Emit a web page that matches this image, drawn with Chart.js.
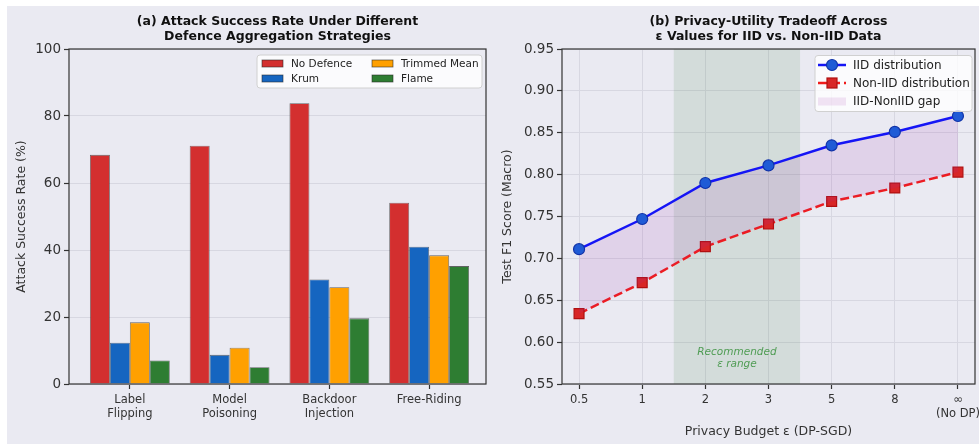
<!DOCTYPE html>
<html>
<head>
<meta charset="utf-8">
<script src="https://cdn.jsdelivr.net/npm/chart.js@4.4.1/dist/chart.umd.min.js"></script>
<style>
    html, body { margin: 0; padding: 0; background: #fff; }
    #bg { position: absolute; left: 7px; top: 6px; width: 972px; height: 438px; background: #eaeaf2; }
    .box { position: absolute; top: 0; height: 446px; }
    #boxA { left: 0; width: 490px; }
    #boxB { left: 490px; width: 489px; }
</style>
</head>
<body>
<div id="bg"></div>
<div class="box" id="boxA"><canvas id="chartA"></canvas></div>
<div class="box" id="boxB"><canvas id="chartB"></canvas></div>
<script>
// Data panel (a): attack success rate (%)
const attackTypes = [['Label', 'Flipping'], ['Model', 'Poisoning'], ['Backdoor', 'Injection'], ['Free-Riding']];
const defences = ['No Defence', 'Krum', 'Trimmed Mean', 'Flame'];
const noDefence = [68.4, 71.1, 83.8, 54.1];
const krum = [12.3, 8.7, 31.2, 41.0];
const trimmedMean = [18.4, 10.8, 28.9, 38.4];
const flame = [7.0, 5.0, 19.6, 35.2];
const defenceColors = ['#d32f2f', '#1565c0', '#ffa000', '#2e7d32'];

// Data panel (b): test F1 per privacy budget
const epsLabels = ['0.5', '1', '2', '3', '5', '8', ['∞', '(No DP)']];
const iidF1 = [0.711, 0.747, 0.790, 0.811, 0.835, 0.851, 0.870];
const nonIidF1 = [0.634, 0.671, 0.714, 0.741, 0.768, 0.784, 0.803];
const recommendedRange = [1.5, 3.5];

const FONT = 'DejaVu Sans';

// kotak hitam di sekeliling area plot
const framePlugin = {
    id: 'frame',
    afterDatasetsDraw(chart) {
        const { ctx, chartArea: a } = chart;
        ctx.save();
        ctx.strokeStyle = '#333';
        ctx.lineWidth = 1.2;
        ctx.strokeRect(a.left, a.top, a.right - a.left, a.bottom - a.top);
        ctx.restore();
    }
};

function legendFrame(ctx, x, y, w, h) {
    ctx.save();
    ctx.beginPath();
    ctx.roundRect(x, y, w, h, 3);
    ctx.fillStyle = 'rgba(255,255,255,0.8)';
    ctx.fill();
    ctx.strokeStyle = '#d0d0d0';
    ctx.lineWidth = 1;
    ctx.stroke();
    ctx.restore();
}

// legenda panel (a), dua kolom
const legendA = {
    id: 'legendA',
    afterDraw(chart) {
        const { ctx, chartArea: a } = chart;
        const w = 225, h = 33;
        const x0 = a.right - 4 - w, y0 = a.top + 6;
        legendFrame(ctx, x0, y0, w, h);
        ctx.save();
        ctx.font = '10.5px "' + FONT + '"';
        ctx.textBaseline = 'middle';
        chart.data.datasets.forEach((ds, k) => {
            const col = k < 2 ? 0 : 1;
            const row = k % 2;
            const px = x0 + 5 + col * 110;
            const py = y0 + 8.5 + row * 15;
            ctx.fillStyle = ds.backgroundColor;
            ctx.fillRect(px, py - 3.5, 21, 7);
            ctx.strokeStyle = 'rgba(40,40,40,0.7)';
            ctx.lineWidth = 0.8;
            ctx.strokeRect(px, py - 3.5, 21, 7);
            ctx.fillStyle = '#222';
            ctx.fillText(ds.label, px + 29, py + 0.5);
        });
        ctx.restore();
    }
};

new Chart(document.getElementById('chartA'), {
    type: 'bar',
    data: {
        datasets: [noDefence, krum, trimmedMean, flame].map((vals, i) => ({
            label: defences[i],
            data: vals.map((v, j) => ({ x: j, y: v })),
            backgroundColor: defenceColors[i],
            borderColor: 'rgba(40,40,40,0.7)',
            borderWidth: 0.8,
            categoryPercentage: 0.8,
            barPercentage: 1.0,
        })),
    },
    options: {
        responsive: true,
        maintainAspectRatio: false,
        animation: false,
        layout: { autoPadding: false, padding: { left: 0, right: 4, top: 0, bottom: 0 } },
        plugins: {
            legend: { display: false },
            tooltip: { enabled: false },
            title: {
                display: true,
                fullSize: false,
                text: ['(a) Attack Success Rate Under Different', 'Defence Aggregation Strategies'],
                font: { family: FONT, size: 12.5, weight: 'bold', lineHeight: 1.2 },
                color: '#111',
                padding: { top: 14, bottom: 5 },
            },
        },
        scales: {
            x: {
                type: 'linear',
                min: -0.61,
                max: 3.57,
                offset: false,
                afterBuildTicks: s => { s.ticks = attackTypes.map((_, i) => ({ value: i })); },
                afterFit: s => { s.height = 62; s.paddingLeft = 0; s.paddingRight = 0; },
                border: { display: false },
                grid: { display: true, offset: false, drawOnChartArea: false, tickLength: 5, tickColor: '#333', tickWidth: 1.2 },
                ticks: {
                    padding: 4,
                    color: '#333',
                    font: { family: FONT, size: 11.5 },
                    callback: v => attackTypes[v],
                },
            },
            y: {
                min: 0,
                max: 100,
                afterFit: s => { s.width = 69; },
                border: { display: false },
                grid: { color: '#d7d7e1', lineWidth: 1, tickLength: 5, tickColor: '#333', tickWidth: 1.2 },
                ticks: { stepSize: 20, padding: 3, color: '#333', font: { family: FONT, size: 13.5 } },
                title: {
                    display: true,
                    text: 'Attack Success Rate (%)',
                    color: '#333',
                    font: { family: FONT, size: 12.5 },
                    padding: { top: 14, bottom: 0 },
                },
            },
        },
    },
    plugins: [framePlugin, legendA],
});

// pita hijau "Recommended ε range" + teksnya
const bandPlugin = {
    id: 'band',
    beforeDatasetsDraw(chart) {
        const { ctx, chartArea: a, scales: { x, y } } = chart;
        const x1 = x.getPixelForValue(recommendedRange[0]);
        const x2 = x.getPixelForValue(recommendedRange[1]);
        ctx.save();
        ctx.fillStyle = 'rgba(46,125,50,0.12)';
        ctx.fillRect(x1, a.top, x2 - x1, a.bottom - a.top);
        ctx.font = 'italic 10.5px "' + FONT + '"';
        ctx.fillStyle = 'rgba(46,140,50,0.8)';
        ctx.textAlign = 'center';
        ctx.textBaseline = 'middle';
        const cx = x.getPixelForValue((recommendedRange[0] + recommendedRange[1]) / 2);
        const cy = y.getPixelForValue(0.581);
        ctx.fillText('Recommended', cx, cy - 6);
        ctx.fillText('ε range', cx, cy + 6);
        ctx.restore();
    }
};

const legendB = {
    id: 'legendB',
    afterDraw(chart) {
        const { ctx, chartArea: a } = chart;
        const w = 157, h = 56;
        const x0 = a.right - 3 - w, y0 = a.top + 6.5;
        legendFrame(ctx, x0, y0, w, h);
        const ds = chart.data.datasets;
        ctx.save();
        ctx.font = '12px "' + FONT + '"';
        ctx.textBaseline = 'middle';
        const hx1 = x0 + 3, hx2 = x0 + 31, hc = (hx1 + hx2) / 2;
        const tx = x0 + 38;
        // IID
        let py = y0 + 9.5;
        ctx.strokeStyle = ds[0].borderColor;
        ctx.lineWidth = 2.5;
        ctx.beginPath(); ctx.moveTo(hx1, py); ctx.lineTo(hx2, py); ctx.stroke();
        ctx.beginPath(); ctx.arc(hc, py, 5.5, 0, Math.PI * 2);
        ctx.fillStyle = ds[0].pointBackgroundColor; ctx.fill();
        ctx.strokeStyle = ds[0].pointBorderColor; ctx.lineWidth = 1.2; ctx.stroke();
        ctx.fillStyle = '#222';
        ctx.fillText(ds[0].label, tx, py + 0.5);
        // Non-IID
        py = y0 + 27.5;
        ctx.strokeStyle = ds[1].borderColor;
        ctx.lineWidth = 2.5;
        ctx.setLineDash([9, 4]);
        ctx.beginPath(); ctx.moveTo(hx1, py); ctx.lineTo(hx2, py); ctx.stroke();
        ctx.setLineDash([]);
        ctx.fillStyle = ds[1].pointBackgroundColor;
        ctx.fillRect(hc - 5, py - 5, 10, 10);
        ctx.strokeStyle = ds[1].pointBorderColor; ctx.lineWidth = 1.2;
        ctx.strokeRect(hc - 5, py - 5, 10, 10);
        ctx.fillStyle = '#222';
        ctx.fillText(ds[1].label, tx, py + 0.5);
        // gap
        py = y0 + 46;
        ctx.fillStyle = ds[0].backgroundColor;
        ctx.fillRect(hx1, py - 4, hx2 - hx1, 8);
        ctx.fillStyle = '#222';
        ctx.fillText('IID-NonIID gap', tx, py + 0.5);
        ctx.restore();
    }
};

new Chart(document.getElementById('chartB'), {
    type: 'line',
    data: {
        datasets: [
            {
                label: 'IID distribution',
                data: iidF1.map((v, i) => ({ x: i, y: v })),
                borderColor: '#1515f5',
                borderWidth: 2.5,
                pointStyle: 'circle',
                pointRadius: 5.5,
                pointBackgroundColor: '#1f5bd6',
                pointBorderColor: '#1033a8',
                pointBorderWidth: 1.2,
                backgroundColor: 'rgba(156,39,176,0.12)',
                fill: '+1',
                tension: 0,
            },
            {
                label: 'Non-IID distribution',
                data: nonIidF1.map((v, i) => ({ x: i, y: v })),
                borderColor: '#f01c1c',
                borderWidth: 2.5,
                borderDash: [9, 4],
                pointStyle: 'rect',
                pointRadius: 7,
                pointBackgroundColor: '#d82626',
                pointBorderColor: '#b01010',
                pointBorderWidth: 1.2,
                fill: false,
                tension: 0,
            },
        ],
    },
    options: {
        responsive: true,
        maintainAspectRatio: false,
        animation: false,
        layout: { autoPadding: false, padding: { left: 0, right: 4, top: 0, bottom: 0 } },
        plugins: {
            legend: { display: false },
            tooltip: { enabled: false },
            title: {
                display: true,
                fullSize: false,
                text: ['(b) Privacy-Utility Tradeoff Across', 'ε Values for IID vs. Non-IID Data'],
                font: { family: FONT, size: 12.5, weight: 'bold', lineHeight: 1.2 },
                color: '#111',
                padding: { top: 14, bottom: 5 },
            },
        },
        scales: {
            x: {
                type: 'linear',
                min: -0.27,
                max: 6.27,
                afterBuildTicks: s => { s.ticks = epsLabels.map((_, i) => ({ value: i })); },
                afterFit: s => { s.height = 62; s.paddingLeft = 0; s.paddingRight = 0; },
                border: { display: false },
                grid: { color: '#d7d7e1', lineWidth: 1, tickLength: 5, tickColor: '#333', tickWidth: 1.2 },
                ticks: {
                    padding: 4,
                    color: '#333',
                    font: { family: FONT, size: 11.5 },
                    callback: v => epsLabels[v],
                },
                title: {
                    display: true,
                    text: 'Privacy Budget ε (DP-SGD)',
                    color: '#333',
                    font: { family: FONT, size: 12.5 },
                    padding: { top: 0, bottom: 7 },
                },
            },
            y: {
                min: 0.55,
                max: 0.95,
                afterFit: s => { s.width = 72; },
                border: { display: false },
                grid: { color: '#d7d7e1', lineWidth: 1, tickLength: 5, tickColor: '#333', tickWidth: 1.2 },
                ticks: {
                    stepSize: 0.05,
                    padding: 3,
                    color: '#333',
                    font: { family: FONT, size: 13.5 },
                    callback: v => v.toFixed(2),
                },
                title: {
                    display: true,
                    text: 'Test F1 Score (Macro)',
                    color: '#333',
                    font: { family: FONT, size: 12.5 },
                    padding: { top: 10, bottom: 0 },
                },
            },
        },
    },
    plugins: [bandPlugin, framePlugin, legendB],
});
</script>
</body>
</html>
